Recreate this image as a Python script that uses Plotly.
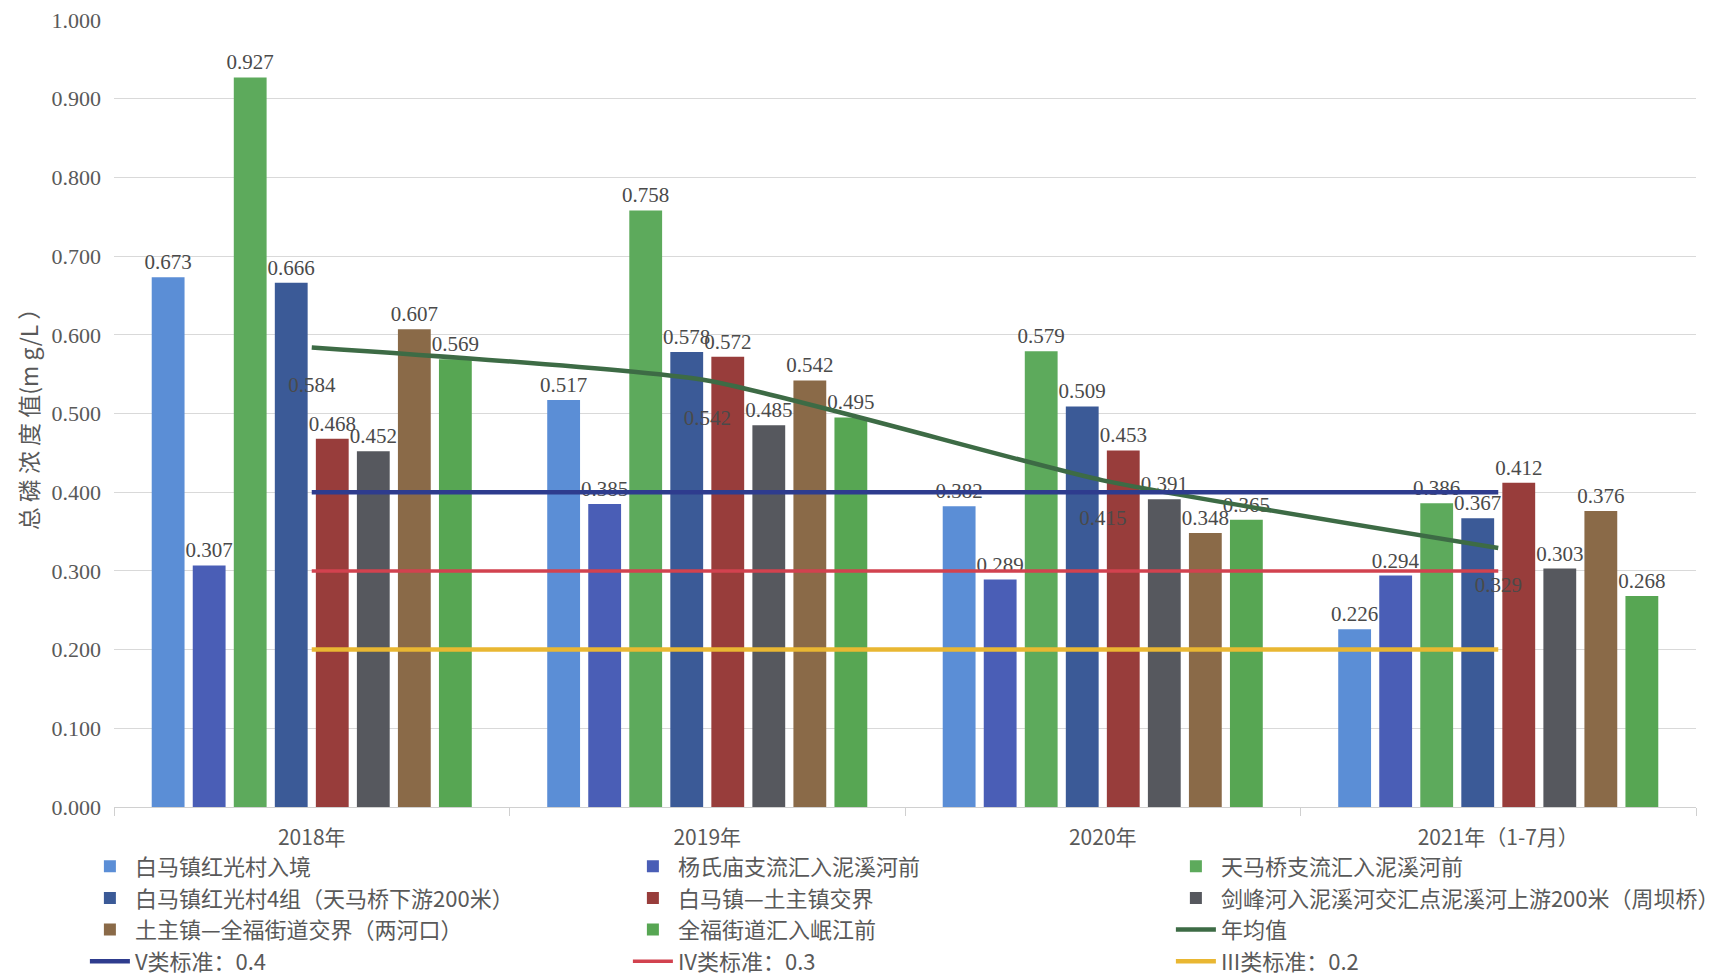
import plotly.graph_objects as go

categories = ["2018年", "2019年", "2020年", "2021年（1-7月）"]

series_names = [
    "白马镇红光村入境",
    "杨氏庙支流汇入泥溪河前",
    "天马桥支流汇入泥溪河前",
    "白马镇红光村4组（天马桥下游200米）",
    "白马镇—土主镇交界",
    "剑峰河入泥溪河交汇点泥溪河上游200米（周坝桥）",
    "土主镇—全福街道交界（两河口）",
    "全福街道汇入岷江前",
]

s1 = [0.673, 0.517, 0.382, 0.226]
s2 = [0.307, 0.385, 0.289, 0.294]
s3 = [0.927, 0.758, 0.579, 0.386]
s4 = [0.666, 0.578, 0.509, 0.367]
s5 = [0.468, 0.572, 0.453, 0.412]
s6 = [0.452, 0.485, 0.391, 0.303]
s7 = [0.607, 0.542, 0.348, 0.376]
s8 = [0.569, 0.495, 0.365, 0.268]
series_values = [s1, s2, s3, s4, s5, s6, s7, s8]

annual_mean = [0.584, 0.542, 0.415, 0.329]
std_v = [0.4, 0.4, 0.4, 0.4]
std_iv = [0.3, 0.3, 0.3, 0.3]
std_iii = [0.2, 0.2, 0.2, 0.2]

bar_colors = ["#5B8ED6", "#4A5EB6", "#5DAA5C", "#3B5A97",
              "#983D3B", "#56585E", "#8A6A48", "#57A653"]

num_font = "Liberation Serif, Times New Roman, Noto Sans CJK SC, serif"
cjk_font = "Noto Sans CJK SC, Liberation Serif, sans-serif"
label_color = "#4a4a4a"
axis_color = "#595959"

fig = go.Figure()

for name, vals, col in zip(series_names, series_values, bar_colors):
    fig.add_trace(go.Bar(
        x=categories, y=vals, name=name,
        marker=dict(color=col, line=dict(width=0)),
        text=vals, texttemplate="%{y:.3f}", textposition="outside",
        constraintext="none", cliponaxis=False,
        textfont=dict(family=num_font, size=21, color=label_color),
    ))

fig.add_trace(go.Scatter(
    x=categories, y=annual_mean, name="年均值", mode="lines+markers+text",
    line=dict(color="#3D6B45", width=4.5, shape="spline", smoothing=0.5),
    marker=dict(size=44, color="rgba(0,0,0,0)", line=dict(width=0)),
    text=[f"{v:.3f}" for v in annual_mean], textposition="bottom center",
    textfont=dict(family=num_font, size=21, color=label_color),
    cliponaxis=False,
))
fig.add_trace(go.Scatter(
    x=categories, y=std_v, name="V类标准：0.4", mode="lines",
    line=dict(color="#2E3C8E", width=4.5),
))
fig.add_trace(go.Scatter(
    x=categories, y=std_iv, name="IV类标准：0.3", mode="lines",
    line=dict(color="#D2424F", width=3.5),
))
fig.add_trace(go.Scatter(
    x=categories, y=std_iii, name="III类标准：0.2", mode="lines",
    line=dict(color="#E9B732", width=4.5),
))

fig.update_layout(
    width=1717, height=978,
    margin=dict(l=106, r=29, t=12, b=179, autoexpand=False),
    paper_bgcolor="white", plot_bgcolor="white",
    barmode="group", bargap=0.17, bargroupgap=0.2,
    font=dict(family=cjk_font, color=axis_color),
    showlegend=True,
    legend=dict(
        orientation="h", x=-0.0184, y=-0.049, xanchor="left", yanchor="top",
        entrywidth=488, entrywidthmode="pixels",
        font=dict(family=cjk_font, size=22, color=axis_color),
        itemwidth=40, tracegroupgap=0, traceorder="normal",
        bgcolor="rgba(0,0,0,0)",
    ),
    xaxis=dict(
        showgrid=False, showline=True, linecolor="#d0d0d0", linewidth=1,
        ticks="outside", tickson="boundaries", ticklen=8, tickcolor="#d0d0d0",
        ticklabelstandoff=12, automargin=False,
        tickfont=dict(family=cjk_font, size=21, color=axis_color),
    ),
    yaxis=dict(
        range=[0, 1.0], dtick=0.1, tickformat=".3f",
        showgrid=True, gridcolor="#d9d9d9", gridwidth=1,
        zeroline=False, showline=False, automargin=False,
        ticklabelstandoff=12, ticklabeloverflow="allow",
        tickfont=dict(family=num_font, size=22, color=axis_color),
        title=dict(text="总 磷 浓 度 值(m g/L ）",
                   font=dict(family=cjk_font, size=23, color=axis_color),
                   standoff=6),
    ),
)

fig.write_html("out.html")
